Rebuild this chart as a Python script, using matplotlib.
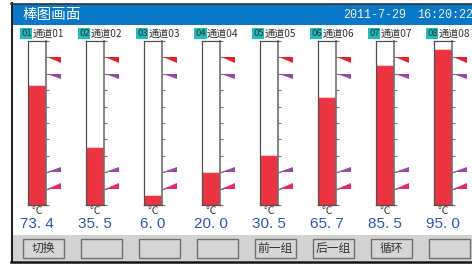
import matplotlib
matplotlib.use('Agg')
import matplotlib.pyplot as plt
from matplotlib.patches import Rectangle

plt.rcParams['font.family'] = ['Noto Sans CJK SC', 'DejaVu Sans']

# dados do painel
canais = ['01', '02', '03', '04', '05', '06', '07', '08']
valores = [73.4, 35.5, 6.0, 20.0, 30.5, 65.7, 85.5, 95.0]
textos_valor = ['73. 4', '35. 5', '6. 0', '20. 0', '30. 5', '65. 7', '85. 5', '95. 0']
alarme_hh = 90
alarme_h = 80
alarme_l = 20
alarme_ll = 10
botoes = ['切换', '', '', '', '前一组', '后一组', '循环', '']

W, H = 472, 264
fig = plt.figure(figsize=(W / 100, H / 100), dpi=100)
fig.patch.set_facecolor('white')

# fundo em coordenadas de pixel
bg = fig.add_axes([0, 0, 1, 1])
bg.set_xlim(0, W)
bg.set_ylim(H, 0)
bg.axis('off')

# moldura, cabecalho e area dos botoes
bg.add_patch(Rectangle((12, 4), W - 12, 21, facecolor='#0A78C8', edgecolor='none'))
bg.add_patch(Rectangle((12, 235), W - 12, 26, facecolor='#D2D2D2', edgecolor='none'))
bg.plot([11.5, 11.5], [3, 262], color='#222222', lw=1.5)
bg.plot([11, W], [3.5, 3.5], color='#333333', lw=1.2)
bg.plot([11, W], [261.5, 261.5], color='#111111', lw=1.8)

bg.text(22, 14.5, '棒图画面', color='white', fontsize=10.5, va='center', ha='left')
bg.text(343, 15, '2011-7-29', color='#F0F0F0', fontsize=8.5, va='center', ha='left',
        family='Liberation Mono')
bg.text(417, 15, '16:20:22', color='#F0F0F0', fontsize=8.5, va='center', ha='left',
        family='Liberation Mono')

for k, b in enumerate(botoes):
    x0 = 23 + 58 * k
    bg.add_patch(Rectangle((x0, 239), 41, 19, facecolor='#D6D6D6', edgecolor='#6E6E6E', lw=1))
    if b:
        bg.text(x0 + 20.5, 248.5, b, color='#333333', fontsize=8.5, ha='center', va='center')

# um eixo por canal
for i, c in enumerate(canais):
    x0 = 28 + 58 * i
    ax = fig.add_axes([x0 / W, 1 - 205 / H, 18 / W, 164 / H])
    ax.set_xlim(-0.5, 0.5)
    ax.set_ylim(0, 100)
    ax.set_facecolor('white')
    ax.bar(0, valores[i], width=1, color='#EC3342', edgecolor='none')
    ax.plot([-0.5, 0.5], [valores[i], valores[i]], color='#F6C8C8', lw=0.8)
    for s in ['left', 'top', 'bottom']:
        ax.spines[s].set_color('#505050')
        ax.spines[s].set_linewidth(0.9)
    ax.spines['right'].set_color('#707070')
    ax.spines['right'].set_linewidth(1.2)
    ax.set_xticks([])
    ax.yaxis.tick_right()
    ax.set_yticks(range(0, 101, 10))
    ax.set_yticklabels([])
    ax.tick_params(axis='y', direction='out', length=2.2, width=0.8, color='#707070')

    # bandeiras de alarme
    tr = ax.get_yaxis_transform()
    ax.fill([1.05, 1.85, 1.85], [alarme_hh, alarme_hh, alarme_hh - 3.2], color='#E4202A',
            transform=tr, clip_on=False, lw=0)
    ax.fill([1.05, 1.85, 1.85], [alarme_h, alarme_h, alarme_h - 3.2], color='#9A48A6',
            transform=tr, clip_on=False, lw=0)
    ax.fill([1.05, 1.85, 1.85], [alarme_l, alarme_l, alarme_l + 3.2], color='#9A48A6',
            transform=tr, clip_on=False, lw=0)
    ax.fill([1.05, 1.85, 1.85], [alarme_ll, alarme_ll, alarme_ll + 3.2], color='#E6286E',
            transform=tr, clip_on=False, lw=0)

    # rotulos
    bg.text(x0 - 7, 33.5, c, color='#333333', fontsize=6.8, ha='left', va='center',
            bbox=dict(facecolor='#1FBDBD', edgecolor='none', pad=0.6))
    bg.text(x0 + 4.8, 33.5, '通道' + c, color='#333333', fontsize=7.3, ha='left', va='center')
    bg.text(x0 + 9, 211.5, '℃', color='#333333', fontsize=7.5, ha='center', va='center')
    bg.text(x0 + 9, 224, textos_valor[i], color='#2C56B4', fontsize=11, ha='center',
            va='center', family='Liberation Sans')

fig.savefig('out.png', dpi=100)
